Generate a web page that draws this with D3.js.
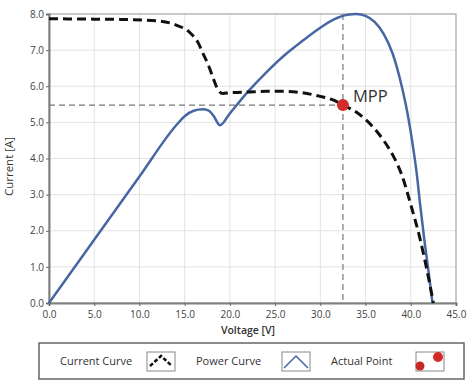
<!DOCTYPE html>
<html>
<head>
<meta charset="utf-8">
<script src="https://cdn.jsdelivr.net/npm/d3@7"></script>
<style>
  body { margin: 0; background: #fff; }
  svg text { font-family: "Open Sans", "Noto Sans", sans-serif; }
</style>
</head>
<body>
<div id="chart"></div>
<script>
// I-V and P-V curve data (power scaled onto current axis)
const currentVoltage = [0, 4, 8, 12, 14, 15.6, 16.5, 17, 17.6, 18.1, 18.7, 19.2, 20, 22, 24, 26, 28, 30, 31.4, 32.5, 34, 35, 36, 37, 38, 39, 40, 41, 42, 42.5];
const currentValues = [7.87, 7.86, 7.85, 7.81, 7.7, 7.48, 7.2, 6.92, 6.6, 6.26, 5.9, 5.8, 5.82, 5.84, 5.86, 5.86, 5.82, 5.72, 5.62, 5.48, 5.28, 5.08, 4.82, 4.5, 4.1, 3.55, 2.72, 1.8, 0.65, 0];

const powerVoltage = [0, 5, 10, 14, 15, 16, 17, 17.6, 18.2, 18.9, 20, 22, 24, 26, 28, 30, 31.5, 33, 34, 35, 36, 37, 38, 39, 39.6, 40.2, 40.7, 41, 41.5, 42, 42.4];
const powerValues = [0, 1.75, 3.5, 4.9, 5.17, 5.32, 5.36, 5.33, 5.18, 4.92, 5.25, 5.85, 6.38, 6.85, 7.25, 7.62, 7.85, 7.98, 8.0, 7.95, 7.78, 7.45, 6.9, 6.0, 5.3, 4.4, 3.5, 2.8, 1.75, 0.8, 0];

const mpp = { v: 32.5, i: 5.48 };

const xTicks = [0, 5, 10, 15, 20, 25, 30, 35, 40, 45];
const yTicks = [0, 1, 2, 3, 4, 5, 6, 7, 8];

const legendItems = ["Current Curve", "Power Curve", "Actual Point"];

const width = 475, height = 388;
const margin = { top: 14, right: 19, bottom: 85, left: 49 };
const innerWidth = width - margin.left - margin.right;
const innerHeight = height - margin.top - margin.bottom;

const svg = d3.select("#chart").append("svg")
    .attr("width", width)
    .attr("height", height);

const g = svg.append("g")
    .attr("transform", `translate(${margin.left},${margin.top})`);

const x = d3.scaleLinear().domain([0, 45]).range([0, innerWidth]);
const y = d3.scaleLinear().domain([0, 8]).range([innerHeight, 0]);

// grid
g.append("g").selectAll("line")
    .data(xTicks)
    .join("line")
    .attr("x1", d => x(d)).attr("x2", d => x(d))
    .attr("y1", 0).attr("y2", innerHeight)
    .attr("stroke", "#e3e3e3");
g.append("g").selectAll("line")
    .data(yTicks)
    .join("line")
    .attr("x1", 0).attr("x2", innerWidth)
    .attr("y1", d => y(d)).attr("y2", d => y(d))
    .attr("stroke", "#e3e3e3");

// frame
g.append("rect")
    .attr("width", innerWidth).attr("height", innerHeight)
    .attr("fill", "none").attr("stroke", "#a0a0a0");

// axes
const yAxis = g.append("g")
    .call(d3.axisLeft(y).tickValues(yTicks).tickFormat(d3.format(".1f")).tickSize(3).tickPadding(2));
const xAxis = g.append("g")
    .attr("transform", `translate(0,${innerHeight})`)
    .call(d3.axisBottom(x).tickValues(xTicks).tickFormat(d3.format(".1f")).tickSize(3).tickPadding(5));
[yAxis, xAxis].forEach(a => {
    a.select(".domain").attr("stroke", "#808080").attr("stroke-width", 2);
    a.selectAll(".tick line").attr("stroke", "#666");
    a.selectAll(".tick text").attr("fill", "#444").attr("font-size", "10px");
});

// reference lines to MPP
g.append("line")
    .attr("x1", 0).attr("x2", x(mpp.v))
    .attr("y1", y(mpp.i)).attr("y2", y(mpp.i))
    .attr("stroke", "#777").attr("stroke-width", 1.2)
    .attr("stroke-dasharray", "6,4");
g.append("line")
    .attr("x1", x(mpp.v)).attr("x2", x(mpp.v))
    .attr("y1", 0).attr("y2", innerHeight)
    .attr("stroke", "#777").attr("stroke-width", 1.2)
    .attr("stroke-dasharray", "6,4");

const line = d3.line()
    .x(d => x(d[0]))
    .y(d => y(d[1]))
    .curve(d3.curveMonotoneX);

// power curve
g.append("path")
    .datum(d3.zip(powerVoltage, powerValues))
    .attr("d", line)
    .attr("fill", "none")
    .attr("stroke", "#4866a4")
    .attr("stroke-width", 2.5);

// current curve
g.append("path")
    .datum(d3.zip(currentVoltage, currentValues))
    .attr("d", line)
    .attr("fill", "none")
    .attr("stroke", "#111")
    .attr("stroke-width", 3)
    .attr("stroke-dasharray", "9,5");

// MPP point
g.append("circle")
    .attr("cx", x(mpp.v)).attr("cy", y(mpp.i))
    .attr("r", 6)
    .attr("fill", "#d42a2a");
g.append("text")
    .attr("x", x(mpp.v) + 10).attr("y", y(mpp.i) - 3)
    .attr("font-size", "16.5px")
    .attr("fill", "#333")
    .text("MPP");

// axis titles
svg.append("text")
    .attr("transform", `translate(13,${margin.top + innerHeight / 2 + 8}) rotate(-90)`)
    .attr("text-anchor", "middle")
    .attr("font-size", "11.5px")
    .attr("fill", "#333")
    .text("Current [A]");
svg.append("text")
    .attr("x", 248)
    .attr("y", 334)
    .attr("text-anchor", "middle")
    .attr("font-size", "10.5px")
    .attr("font-weight", "600")
    .attr("fill", "#333")
    .text("Voltage [V]");

// legend
const legend = svg.append("g");
legend.append("rect")
    .attr("x", 39).attr("y", 343)
    .attr("width", 425).attr("height", 36)
    .attr("fill", "#fff")
    .attr("stroke", "#666").attr("stroke-width", 1.5);

const textX = [60, 196, 331];
const iconX = [147, 282, 416];
legendItems.forEach((label, i) => {
    legend.append("text")
        .attr("x", textX[i]).attr("y", 365)
        .attr("font-size", "11px")
        .attr("fill", "#333")
        .text(label);
    legend.append("rect")
        .attr("x", iconX[i]).attr("y", 352)
        .attr("width", 28).attr("height", 19)
        .attr("fill", "#fff")
        .attr("stroke", "#888");
});
// icon contents
legend.append("path")
    .attr("d", `M${iconX[0] + 3},366 L${iconX[0] + 14},356 L${iconX[0] + 25},366`)
    .attr("fill", "none").attr("stroke", "#111").attr("stroke-width", 2.5)
    .attr("stroke-dasharray", "4,2");
legend.append("path")
    .attr("d", `M${iconX[1] + 2},368 L${iconX[1] + 14},356 L${iconX[1] + 26},368`)
    .attr("fill", "none").attr("stroke", "#4866a4").attr("stroke-width", 1.5);
legend.append("circle")
    .attr("cx", iconX[2] + 4).attr("cy", 366).attr("r", 4.5)
    .attr("fill", "#c62828");
legend.append("circle")
    .attr("cx", iconX[2] + 22).attr("cy", 357).attr("r", 5)
    .attr("fill", "#d42a2a");
</script>
</body>
</html>
